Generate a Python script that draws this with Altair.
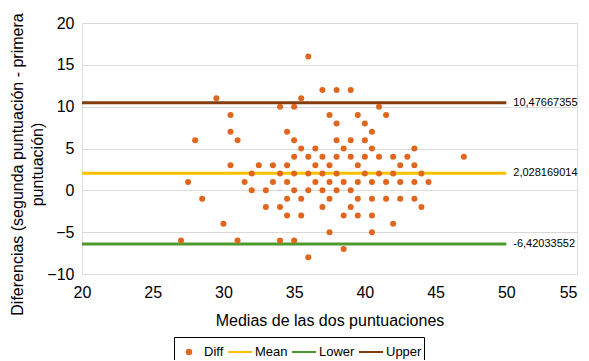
import altair as alt
import pandas as pd

# Bland-Altman points: differences (rows) and the means found on each row
rows = {
    16: [36],
    12: [37, 38, 39],
    11: [29.5, 35.5],
    10: [34, 35, 41],
    9: [30.5, 37.5, 39.5, 41.5],
    8: [38, 40],
    7: [30.5, 34.5, 40.5],
    6: [28, 31, 35, 38, 39, 40],
    5: [35.5, 36.5, 38.5, 40.5, 43.5],
    4: [35, 36, 37, 38, 39, 40, 41, 42, 43, 47],
    3: [30.5, 32.5, 33.5, 34.5, 36.5, 37.5, 39.5, 42.5, 43.5],
    2: [32, 34, 35, 36, 37, 38, 40, 41, 42, 44],
    1: [27.5, 31.5, 33.5, 34.5, 36.5, 37.5, 38.5, 39.5, 40.5, 41.5, 42.5, 43.5, 44.5],
    0: [32, 33, 35, 36, 37, 38, 39],
    -1: [28.5, 34.5, 35.5, 37.5, 39.5, 40.5, 41.5, 42.5, 43.5],
    -2: [33, 34, 37, 39, 44],
    -3: [34.5, 35.5, 38.5, 39.5, 40.5],
    -4: [30, 42],
    -5: [37.5, 40.5],
    -6: [27, 31, 34, 35],
    -7: [38.5],
    -8: [36],
}

line_names = ["Mean", "Lower", "Upper"]
line_values = [2.028169014, -6.42033552, 10.47667355]
line_labels = ["2,028169014", "-6,42033552", "10,47667355"]
line_start = 20
line_end = 50

series_domain = ["Diff", "Mean", "Lower", "Upper"]
series_colors = ["#E0661E", "#FFC000", "#4E9A2E", "#843C0C"]

x_ticks = [20, 25, 30, 35, 40, 45, 50, 55]
y_ticks = [-10, -5, 0, 5, 10, 15, 20]

means, diffs = [], []
for d, ms in rows.items():
    for m in ms:
        means.append(m)
        diffs.append(d)
pts = pd.DataFrame({"mean": means, "diff": diffs, "series": "Diff"})
lines = pd.DataFrame({
    "series": line_names,
    "val": line_values,
    "label": line_labels,
    "x0": line_start,
    "x1": line_end,
})

color = alt.Color(
    "series:N",
    scale=alt.Scale(domain=series_domain, range=series_colors),
    legend=alt.Legend(
        title=None,
        orient="none",
        legendX=92,
        legendY=314,
        direction="horizontal",
        symbolType=alt.ExprRef(expr="datum.value === 'Diff' ? 'circle' : 'stroke'"),
        symbolSize=alt.ExprRef(expr="datum.value === 'Diff' ? 20 : 576"),
        symbolStrokeColor=alt.ExprRef(expr="scale('color', datum.value)"),
        symbolFillColor=alt.ExprRef(expr="scale('color', datum.value)"),
        symbolStrokeWidth=2,
        labelFontSize=13,
        labelFont="Liberation Sans",
        labelColor="black",
        labelOffset=2,
        columnPadding=0,
        padding=2,
        strokeColor="black",
    ),
)

xscale = alt.Scale(domain=[20, 55], nice=False, zero=False)
yscale = alt.Scale(domain=[-10, 20], nice=False, zero=False)

xaxis = alt.Axis(
    title="Medias de las dos puntuaciones",
    values=x_ticks,
    grid=False, ticks=False, tickSize=0, domain=False,
    labelFlush=False,
    labelAlign=alt.ExprRef(expr="datum.value == 55 ? 'right' : 'center'"),
    labelFontSize=16, labelFont="Liberation Sans", labelColor="black",
    labelPadding=10, titlePadding=12,
    titleFontSize=16, titleFont="Liberation Sans", titleFontWeight="normal", titleColor="black",
)
yaxis = alt.Axis(
    title=["Diferencias (segunda puntuación - primera", "puntuación)"],
    values=y_ticks,
    grid=True, gridColor="#D9D9D9", gridWidth=1,
    ticks=False, tickSize=0, domain=False,
    labelFontSize=16, labelFont="Liberation Sans", labelColor="black",
    labelPadding=8, titlePadding=1, titleLineHeight=20,
    titleY=141,
    titleFontSize=16, titleFont="Liberation Sans", titleFontWeight="normal", titleColor="black",
)

rules = alt.Chart(lines).mark_rule(strokeWidth=3).encode(
    x=alt.X("x0:Q", scale=xscale, axis=xaxis),
    x2="x1:Q",
    y=alt.Y("val:Q", scale=yscale, axis=yaxis),
    color=color,
)
texts = alt.Chart(lines).mark_text(
    align="left", baseline="middle", dx=7, fontSize=11, font="Liberation Sans", color="black"
).encode(
    x="x1:Q",
    y="val:Q",
    text="label:N",
)
points = alt.Chart(pts).mark_circle(size=36, opacity=1).encode(
    x=alt.X("mean:Q", scale=xscale, axis=xaxis),
    y=alt.Y("diff:Q", scale=yscale, axis=yaxis),
    color=color,
)

chart = alt.layer(rules, texts, points).properties(
    width=495,
    height=251,
    autosize=alt.AutoSizeParams(type="none"),
    padding={"left": 74, "top": 15, "right": 4, "bottom": 86},
).configure_view(stroke=None).configure(background="white")

chart.save("out.html", embed_options={"renderer": "svg", "actions": False})
